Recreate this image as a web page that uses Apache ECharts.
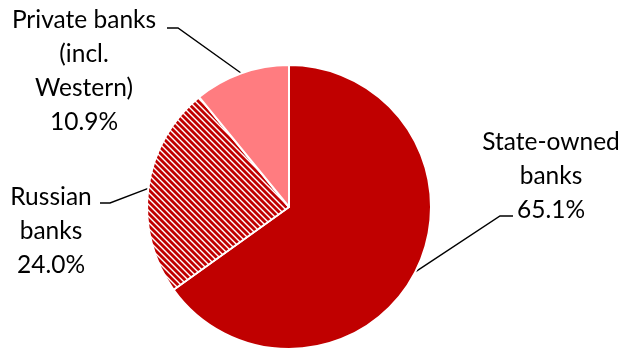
<!DOCTYPE html>
<html>
<head>
<meta charset="utf-8">
<script src="https://cdn.jsdelivr.net/npm/echarts@6/dist/echarts.min.js"></script>
<style>
  html, body { margin: 0; padding: 0; background: #fff; }
  #chart { width: 625px; height: 350px; }
</style>
</head>
<body>
<div id="chart"></div>
<script>
// slice data, clockwise from 12 o'clock
const names = ['State-owned\nbanks', 'Russian\nbanks', 'Private banks\n(incl.\nWestern)']
const shares = [65.1, 24.0, 10.9]

// label placement: centre of text block, and where the leader line meets the text
const labelPos = [
    { x: 551, y: 176, end: [-38, 40], bend: -13 },
    { x: 51, y: 231, end: [49, -28], bend: 10 },
    { x: 84, y: 71, end: [83, -43], bend: 11 }
]

// "\" striped fill for the hatched slice
function stripes(size) {
    const c = document.createElement('canvas')
    c.width = size
    c.height = size
    const ctx = c.getContext('2d')
    const img = ctx.createImageData(size, size)
    // red share per diagonal step, soft edges like the original
    const ramp = [1, 1, 1, 0.55, 0, 0.45]
    for (let y = 0; y < size; y++) {
        for (let x = 0; x < size; x++) {
            const d = ((x - y) % size + size) % size
            const a = ramp[d]
            const i = (y * size + x) * 4
            img.data[i] = Math.round(255 - a * (255 - 0xC0))
            img.data[i + 1] = Math.round(255 - a * 255)
            img.data[i + 2] = Math.round(255 - a * 255)
            img.data[i + 3] = 255
        }
    }
    ctx.putImageData(img, 0, 0)
    return c
}

const fills = ['#C00000', { image: stripes(6), repeat: 'repeat' }, '#FF7C80']

const chart = echarts.init(document.getElementById('chart'))
chart.setOption({
    animation: false,
    series: [{
        type: 'pie',
        center: [289, 207],
        radius: 142,
        startAngle: 90,
        clockwise: true,
        data: shares.map((v, i) => ({
            name: names[i],
            value: v,
            itemStyle: { color: fills[i] }
        })),
        itemStyle: { borderColor: '#fff', borderWidth: 2 },
        label: {
            show: true,
            position: 'outside',
            formatter: p => p.name + '\n' + p.value.toFixed(1) + '%',
            color: '#000',
            fontFamily: 'Lato',
            fontSize: 24.5,
            lineHeight: 34,
            align: 'center'
        },
        labelLine: {
            show: true,
            lineStyle: { color: '#000', width: 1.4 }
        },
        labelLayout: (params) => {
            const p = labelPos[params.dataIndex]
            const start = params.labelLinePoints ? params.labelLinePoints[0] : [p.x, p.y]
            const end = [p.x + p.end[0], p.y + p.end[1]]
            const bend = [end[0] + p.bend, end[1]]
            return {
                x: p.x,
                y: p.y,
                align: 'center',
                verticalAlign: 'middle',
                labelLinePoints: [start, bend, end]
            }
        }
    }]
})
</script>
</body>
</html>
